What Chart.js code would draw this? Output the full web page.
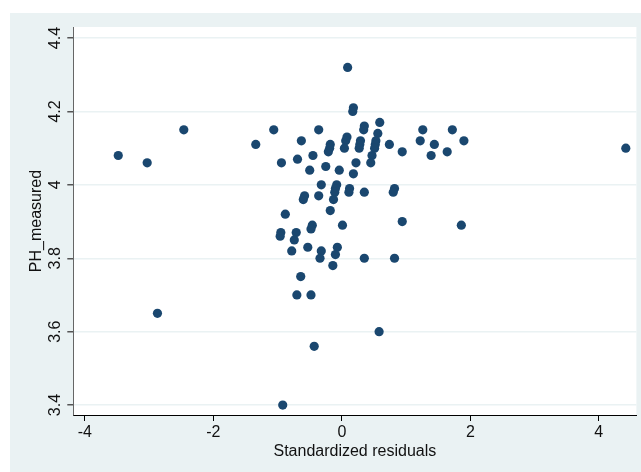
<!DOCTYPE html>
<html>
<head>
<meta charset="utf-8">
<script src="https://cdn.jsdelivr.net/npm/chart.js@4/dist/chart.umd.min.js"></script>
<style>
  body { margin: 0; background: #ffffff; }
</style>
</head>
<body>
<canvas id="grafica" width="641" height="472"></canvas>
<script>
const resid = [
  0.09, 0.18, 0.17, 0.59, -2.46, -1.06, -0.36, 0.35, 0.34, 1.26,
  1.72, 0.56, 0.08, 0.06, -0.63, 0.29, 0.28, 0.27, 0.53, 0.52,
  0.51, 1.22, 1.90, -1.34, -0.18, -0.19, -0.21, 1.44, 0.74, 0.04,
  4.42, 0.94, 1.64, -3.48, -0.45, 0.47, 1.39, -0.69, -3.03, -0.94,
  0.22, 0.45, -0.25, -0.50, -0.04, 0.18, -0.32, -0.08, -0.10, -0.11,
  -0.13, 0.12, 0.11, 0.35, 0.82, 0.80, -0.58, -0.60, -0.36, -0.18,
  -0.88, 0.94, -0.46, -0.48, 0.01, 1.86, -0.95, -0.96, -0.71, -0.74,
  -0.53, -0.07, -0.78, -0.32, -0.10, -0.34, 0.35, 0.82, -0.14, -0.64,
  -0.70, -0.48, -2.87, 0.58, -0.43, -0.92
];
const phMeasured = [
  4.32, 4.21, 4.20, 4.17, 4.15, 4.15, 4.15, 4.16, 4.15, 4.15,
  4.15, 4.14, 4.13, 4.12, 4.12, 4.12, 4.11, 4.10, 4.12, 4.11,
  4.10, 4.12, 4.12, 4.11, 4.11, 4.10, 4.09, 4.11, 4.11, 4.10,
  4.10, 4.09, 4.09, 4.08, 4.08, 4.08, 4.08, 4.07, 4.06, 4.06,
  4.06, 4.06, 4.05, 4.04, 4.04, 4.03, 4.00, 4.00, 3.99, 3.98,
  3.96, 3.99, 3.98, 3.98, 3.99, 3.98, 3.97, 3.96, 3.97, 3.93,
  3.92, 3.90, 3.89, 3.88, 3.89, 3.89, 3.87, 3.86, 3.87, 3.85,
  3.83, 3.83, 3.82, 3.82, 3.81, 3.80, 3.80, 3.80, 3.78, 3.75,
  3.70, 3.70, 3.65, 3.60, 3.56, 3.40
];
const xTicks = [-4, -2, 0, 2, 4];
const yTicks = [3.4, 3.6, 3.8, 4, 4.2, 4.4];

const puntos = resid.map((r, i) => ({ x: r, y: phMeasured[i] }));

// fondos estilo Stata
const fondo = {
  id: "fondo",
  beforeDraw(chart) {
    const ctx = chart.ctx;
    const a = chart.chartArea;
    ctx.save();
    ctx.fillStyle = "#eaf2f3";
    ctx.fillRect(10, 13, chart.width - 10, chart.height - 13);
    ctx.fillStyle = "#ffffff";
    ctx.fillRect(a.left, a.top, a.right - a.left, a.bottom - a.top);
    ctx.restore();
  }
};

const fuente = { family: "'Liberation Sans', Arial, sans-serif", size: 16 };

new Chart(document.getElementById("grafica"), {
  type: "scatter",
  data: {
    datasets: [{
      data: puntos,
      backgroundColor: "#1a476f",
      borderWidth: 0,
      pointRadius: 4.6,
      pointHoverRadius: 4.6
    }]
  },
  options: {
    responsive: false,
    animation: false,
    layout: { padding: { left: 10, top: 27, right: 3, bottom: 0 } },
    plugins: { legend: { display: false }, tooltip: { enabled: false } },
    scales: {
      x: {
        type: "linear",
        min: -4.18,
        max: 4.585,
        afterBuildTicks: (s) => { s.ticks = xTicks.map(v => ({ value: v })); },
        afterFit: (s) => { s.height = 57; },
        border: { color: "#000000", width: 1 },
        grid: { drawOnChartArea: false, drawTicks: true, tickLength: 6, tickColor: "#000000" },
        ticks: { color: "#111111", font: fuente, padding: 2, maxRotation: 0 },
        title: { display: true, text: "Standardized residuals", color: "#111111", font: fuente, padding: { top: 0, bottom: 11 } }
      },
      y: {
        type: "linear",
        min: 3.373,
        max: 4.43,
        afterBuildTicks: (s) => { s.ticks = yTicks.map(v => ({ value: v })); },
        afterFit: (s) => { s.width = 63.3; },
        border: { color: "#666666", width: 1 },
        grid: { color: "#eaf2f3", lineWidth: 1.5, drawTicks: true, tickLength: 6, tickColor: "#555555" },
        ticks: {
          color: "#111111", font: fuente, padding: 1,
          minRotation: 90, maxRotation: 90, crossAlign: "center",
          callback: (v) => String(v)
        },
        title: { display: true, text: "PH_measured", color: "#111111", font: fuente, padding: { top: 17, bottom: 0 } }
      }
    }
  },
  plugins: [fondo]
});
</script>
</body>
</html>
